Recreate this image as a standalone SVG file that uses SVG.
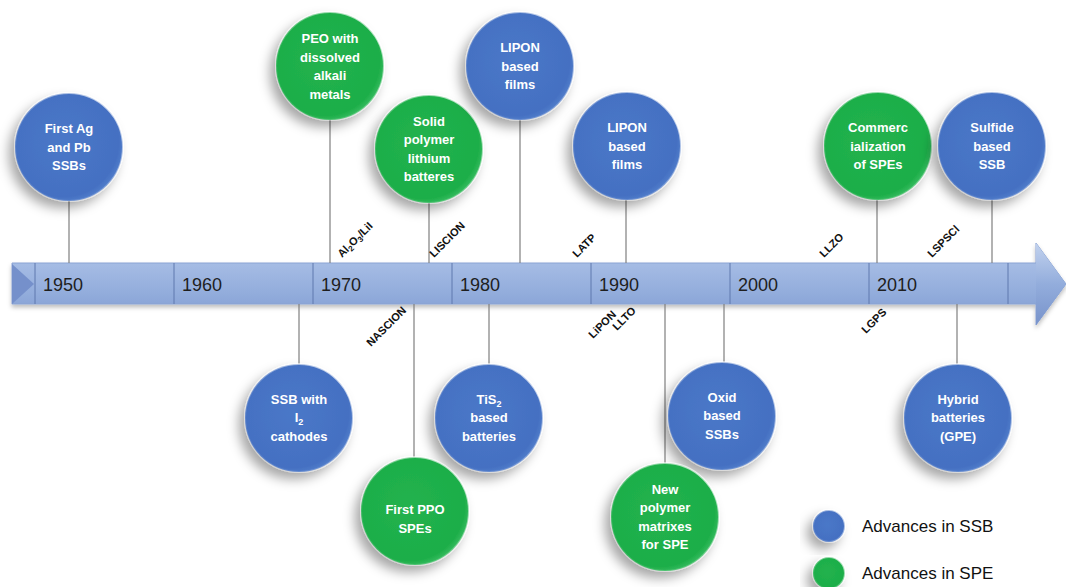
<svg xmlns="http://www.w3.org/2000/svg" width="1066" height="587" viewBox="0 0 1066 587">
<defs>
<linearGradient id="bar" x1="0" y1="0" x2="0" y2="1">
<stop offset="0" stop-color="#CCDAF0"/>
<stop offset="0.18" stop-color="#A9BFE6"/>
<stop offset="0.6" stop-color="#93ADDC"/>
<stop offset="1" stop-color="#7E9AD0"/>
</linearGradient>
<linearGradient id="head" x1="0" y1="0" x2="0" y2="1">
<stop offset="0" stop-color="#C2D2EE"/>
<stop offset="0.5" stop-color="#93ADDC"/>
<stop offset="1" stop-color="#7893CB"/>
</linearGradient>
<radialGradient id="gb" cx="0.45" cy="0.45" r="0.6">
<stop offset="0" stop-color="#4A78C8"/>
<stop offset="0.85" stop-color="#4470C2"/>
<stop offset="1" stop-color="#5B86D0"/>
</radialGradient>
<radialGradient id="gg" cx="0.45" cy="0.45" r="0.6">
<stop offset="0" stop-color="#22B24E"/>
<stop offset="0.85" stop-color="#1DAE49"/>
<stop offset="1" stop-color="#45C46C"/>
</radialGradient>
<linearGradient id="rim" x1="1" y1="0" x2="0" y2="1">
<stop offset="0" stop-color="#FFFFFF" stop-opacity="0.85"/>
<stop offset="0.5" stop-color="#FFFFFF" stop-opacity="0.25"/>
<stop offset="1" stop-color="#FFFFFF" stop-opacity="0.05"/>
</linearGradient>
<filter id="sh" x="-40%" y="-40%" width="180%" height="180%">
<feDropShadow dx="-6" dy="7" stdDeviation="6" flood-color="#000" flood-opacity="0.35"/>
</filter>
<filter id="shb" x="-5%" y="-30%" width="110%" height="170%">
<feDropShadow dx="0" dy="3" stdDeviation="2" flood-color="#000" flood-opacity="0.25"/>
</filter>
</defs>
<style>
.ssb{fill:url(#gb);stroke:url(#rim);stroke-width:2;filter:url(#sh)}
.spe{fill:url(#gg);stroke:url(#rim);stroke-width:2;filter:url(#sh)}
.t{font-family:"Liberation Sans",Arial,sans-serif;font-weight:bold;font-size:13px;fill:#FFFFFF;text-anchor:middle}
.yr{font-family:"Liberation Sans",Arial,sans-serif;font-size:18px;fill:#1E1E1E}
.mat{font-family:"Liberation Sans",Arial,sans-serif;font-weight:bold;font-size:11px;fill:#111111}
.leg{font-family:"Liberation Sans",Arial,sans-serif;font-size:17px;fill:#111111}
.c{stroke:#7F7F7F;stroke-width:1.2;fill:none}
.div{stroke:#5F78AE;stroke-width:1}
</style>
<rect width="1066" height="587" fill="#FFFFFF"/>

<g id="timeline">
<path d="M12,263 H1036 V243 L1066,284 L1036,325 V304 H12 Z" fill="url(#bar)" stroke="#8AA3D3" stroke-width="1" filter="url(#shb)"/>
<path d="M1036,243 L1066,284 L1036,325 Z" fill="url(#head)"/>
<path d="M12,264 L34,284 L12,304 Z" fill="#7590CB"/>
<line class="div" x1="35" y1="263" x2="35" y2="304"/>
<line class="div" x1="174" y1="263" x2="174" y2="304"/>
<line class="div" x1="313" y1="263" x2="313" y2="304"/>
<line class="div" x1="452" y1="263" x2="452" y2="304"/>
<line class="div" x1="591" y1="263" x2="591" y2="304"/>
<line class="div" x1="730" y1="263" x2="730" y2="304"/>
<line class="div" x1="869" y1="263" x2="869" y2="304"/>
<line class="div" x1="1008" y1="263" x2="1008" y2="304"/>
<text class="yr" x="43" y="291">1950</text>
<text class="yr" x="182" y="291">1960</text>
<text class="yr" x="321" y="291">1970</text>
<text class="yr" x="460" y="291">1980</text>
<text class="yr" x="599" y="291">1990</text>
<text class="yr" x="738" y="291">2000</text>
<text class="yr" x="877" y="291">2010</text>
</g>

<g id="connectors">
<line class="c" x1="69" y1="201" x2="69" y2="263"/>
<line class="c" x1="330" y1="120" x2="330" y2="263"/>
<line class="c" x1="429" y1="203" x2="429" y2="263"/>
<line class="c" x1="520" y1="120" x2="520" y2="263"/>
<line class="c" x1="626" y1="200" x2="626" y2="263"/>
<line class="c" x1="877" y1="200" x2="877" y2="263"/>
<line class="c" x1="992" y1="200" x2="992" y2="263"/>
<line class="c" x1="299" y1="304" x2="299" y2="365"/>
<line class="c" x1="414" y1="304" x2="414" y2="458"/>
<line class="c" x1="489" y1="304" x2="489" y2="365"/>
<line class="c" x1="665" y1="304" x2="665" y2="463"/>
<line class="c" x1="724" y1="304" x2="724" y2="363"/>
<line class="c" x1="957" y1="304" x2="957" y2="365"/>
</g>

<g id="materials">
<text class="mat" transform="translate(342,258) rotate(-45)">Al<tspan font-size="8" dy="2.5">2</tspan><tspan dy="-2.5">O</tspan><tspan font-size="8" dy="2.5">3</tspan><tspan dy="-2.5">/LiI</tspan></text>
<text class="mat" transform="translate(434,258) rotate(-45)">LISCION</text>
<text class="mat" transform="translate(577,258) rotate(-45)">LATP</text>
<text class="mat" transform="translate(824,258) rotate(-45)">LLZO</text>
<text class="mat" transform="translate(932,258) rotate(-45)">LSPSCl</text>
<text class="mat" transform="translate(371,347) rotate(-45)">NASCION</text>
<text class="mat" transform="translate(593,339) rotate(-45)">LiPON</text>
<text class="mat" transform="translate(617,331) rotate(-45)">LLTO</text>
<text class="mat" transform="translate(866,334) rotate(-45)">LGPS</text>
</g>

<g id="n-first-ag">
<circle class="ssb" cx="69" cy="147" r="54"/>
<text class="t" x="69" y="133">First Ag</text>
<text class="t" x="69" y="152">and Pb</text>
<text class="t" x="69" y="170">SSBs</text>
</g>
<g id="n-peo">
<circle class="spe" cx="330" cy="66" r="54"/>
<text class="t" x="330" y="43">PEO with</text>
<text class="t" x="330" y="62">dissolved</text>
<text class="t" x="330" y="80">alkali</text>
<text class="t" x="330" y="99">metals</text>
</g>
<g id="n-solid-polymer">
<circle class="spe" cx="429" cy="149" r="54"/>
<text class="t" x="429" y="126">Solid</text>
<text class="t" x="429" y="144">polymer</text>
<text class="t" x="429" y="163">lithium</text>
<text class="t" x="429" y="181">batteres</text>
</g>
<g id="n-lipon-1">
<circle class="ssb" cx="520" cy="66" r="54"/>
<text class="t" x="520" y="52">LIPON</text>
<text class="t" x="520" y="71">based</text>
<text class="t" x="520" y="89">films</text>
</g>
<g id="n-lipon-2">
<circle class="ssb" cx="627" cy="146" r="54"/>
<text class="t" x="627" y="132">LIPON</text>
<text class="t" x="627" y="151">based</text>
<text class="t" x="627" y="169">films</text>
</g>
<g id="n-commerc">
<circle class="spe" cx="878" cy="146" r="54"/>
<text class="t" x="878" y="132">Commerc</text>
<text class="t" x="878" y="151">ialization</text>
<text class="t" x="878" y="169">of SPEs</text>
</g>
<g id="n-sulfide">
<circle class="ssb" cx="992" cy="146" r="54"/>
<text class="t" x="992" y="132">Sulfide</text>
<text class="t" x="992" y="151">based</text>
<text class="t" x="992" y="169">SSB</text>
</g>
<g id="n-ssb-i2">
<circle class="ssb" cx="299" cy="418" r="54"/>
<text class="t" x="299" y="404">SSB with</text>
<text class="t" x="299" y="422">I<tspan font-size="9" dy="3">2</tspan></text>
<text class="t" x="299" y="441">cathodes</text>
</g>
<g id="n-tis2">
<circle class="ssb" cx="489" cy="418" r="54"/>
<text class="t" x="489" y="404">TiS<tspan font-size="9" dy="3">2</tspan></text>
<text class="t" x="489" y="422">based</text>
<text class="t" x="489" y="441">batteries</text>
</g>
<g id="n-ppo">
<circle class="spe" cx="415" cy="511" r="54"/>
<text class="t" x="415" y="514">First PPO</text>
<text class="t" x="415" y="533">SPEs</text>
</g>
<g id="n-oxid">
<circle class="ssb" cx="722" cy="416" r="54"/>
<text class="t" x="722" y="402">Oxid</text>
<text class="t" x="722" y="420">based</text>
<text class="t" x="722" y="439">SSBs</text>
</g>
<g id="n-new-polymer">
<circle class="spe" cx="665" cy="517" r="54"/>
<text class="t" x="665" y="494">New</text>
<text class="t" x="665" y="512">polymer</text>
<text class="t" x="665" y="531">matrixes</text>
<text class="t" x="665" y="549">for SPE</text>
</g>
<g id="n-hybrid">
<circle class="ssb" cx="958" cy="418" r="54"/>
<text class="t" x="958" y="404">Hybrid</text>
<text class="t" x="958" y="422">batteries</text>
<text class="t" x="958" y="441">(GPE)</text>
</g>

<g id="legend">
<circle class="ssb" cx="829" cy="526" r="16" stroke-width="1.5"/>
<text class="leg" x="862" y="532">Advances in SSB</text>
<circle class="spe" cx="829" cy="573" r="16" stroke-width="1.5"/>
<text class="leg" x="862" y="579">Advances in SPE</text>
</g>
</svg>
